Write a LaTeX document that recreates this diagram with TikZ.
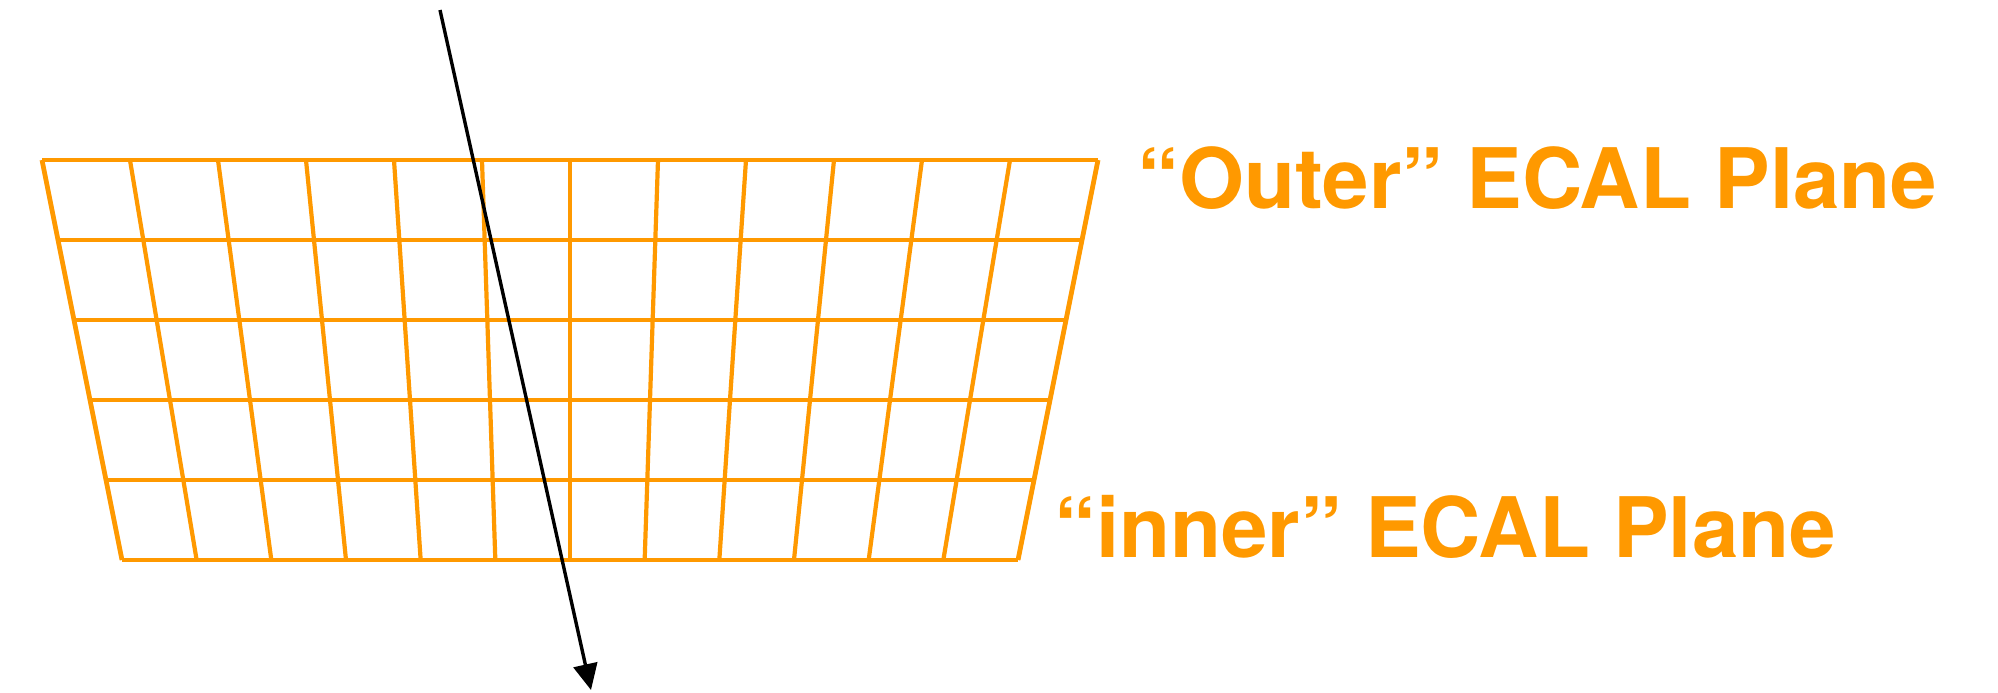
\documentclass[tikz,border=0pt]{standalone}
\usepackage{fontspec}
\setmainfont{TeX Gyre Heros}
\usetikzlibrary{arrows.meta,calc}
\definecolor{ecal}{RGB}{255,153,0}
\begin{document}
\begin{tikzpicture}[x=0.5pt,y=-0.5pt,
  gridline/.style={draw=ecal,line width=2.1pt},
  edgeline/.style={draw=ecal,line width=2.4pt},
  planetext/.style={text=ecal,font=\fontsize{41.75pt}{50pt}\selectfont\bfseries,inner sep=0pt,anchor=base west},
  track/.style={draw=black,line width=1.7pt,-{Triangle[length=13pt,width=12pt]}}]
\useasboundingbox (0,0) rectangle (1998,692);
\coordinate (TL) at (42,160);
\coordinate (TR) at (1098,160);
\coordinate (BL) at (122,560);
\coordinate (BR) at (1018,560);
\foreach \i in {1,...,11} \draw[gridline] ($(TL)!\i/12!(TR)$) -- ($(BL)!\i/12!(BR)$);
\foreach \j in {1,...,4} \draw[gridline] ($(TL)!\j/5!(BL)$) -- ($(TR)!\j/5!(BR)$);
\draw[edgeline] (TL) -- (TR);
\draw[edgeline] (BL) -- (BR);
\draw[edgeline] (TL) -- (BL);
\draw[edgeline] (TR) -- (BR);
\node[planetext] (outer) at (1137,208) {“Outer” ECAL Plane};
\node[planetext] (inner) at (1054,557) {“inner” ECAL Plane};
\coordinate (trackstart) at (440,10);
\coordinate (trackend) at (591,690);
\draw[track] (trackstart) -- (trackend);
\end{tikzpicture}
\end{document}
